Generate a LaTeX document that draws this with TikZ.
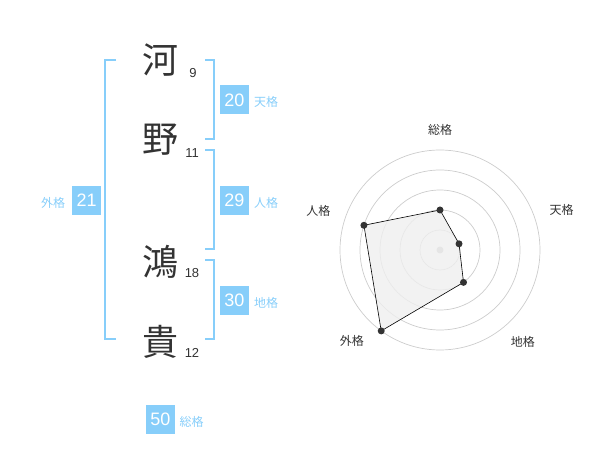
\documentclass[tikz,border=0pt]{standalone}
\usepackage{fontspec}
\setmainfont{Liberation Sans}
\newfontfamily\jp{Noto Sans CJK JP}
\definecolor{skyb}{RGB}{135,206,250}
\definecolor{ink}{RGB}{51,51,51}
\definecolor{ring}{RGB}{204,204,204}
\definecolor{cdot}{RGB}{190,190,190}
\begin{document}
\begin{tikzpicture}[x=1pt,y=-1pt,
  kanji/.style={font=\jp\fontsize{36}{36}\selectfont, text=ink, inner sep=0pt},
  strokes/.style={font=\fontsize{13}{13}\selectfont, text=ink, inner sep=0pt},
  numbox/.style={fill=skyb, text=white, minimum width=29pt, minimum height=29pt, inner sep=0pt, font=\fontsize{18}{18}\selectfont},
  kakulab/.style={text=skyb, inner sep=0pt, font=\jp\fontsize{12}{12}\selectfont},
  brk/.style={draw=skyb, line width=2pt},
  axlab/.style={text=ink, inner sep=0pt, font=\jp\fontsize{12}{12}\selectfont},
  dot/.style={circle, fill=ink, inner sep=0pt, minimum size=7pt},
]
\useasboundingbox (0,0) rectangle (600,470);
% kanji
\node[kanji] (k1) at (160,60) {河};
\node[kanji] (k2) at (160,140) {野};
\node[kanji] (k3) at (160,262) {鴻};
\node[kanji] (k4) at (160,342) {貴};
\node[strokes] (s1) at (193,73) {9};
\node[strokes] (s2) at (192,153) {11};
\node[strokes] (s3) at (192,273) {18};
\node[strokes] (s4) at (192,353) {12};
% brackets
\coordinate (la) at (116,60); \coordinate (lb) at (105,60);
\coordinate (lc) at (105,339); \coordinate (ld) at (116,339);
\draw[brk] (la) -- (lb) -- (lc) -- (ld);
\coordinate (ta) at (205,60); \coordinate (tb) at (214.3,60);
\coordinate (tc) at (214.3,139.3); \coordinate (td) at (205,139.3);
\draw[brk] (ta) -- (tb) -- (tc) -- (td);
\coordinate (ja) at (205,150); \coordinate (jb) at (214.3,150);
\coordinate (jc) at (214.3,249.3); \coordinate (jd) at (205,249.3);
\draw[brk] (ja) -- (jb) -- (jc) -- (jd);
\coordinate (ca) at (205,260); \coordinate (cb) at (214.3,260);
\coordinate (cc) at (214.3,339.3); \coordinate (cd) at (205,339.3);
\draw[brk] (ca) -- (cb) -- (cc) -- (cd);
% boxes
\node[numbox] (b20) at (234.5,100) {20};
\node[kakulab] (l20) at (266,102) {天格};
\node[numbox] (b29) at (234.5,200.5) {29};
\node[kakulab] (l29) at (266,203) {人格};
\node[numbox] (b30) at (234.5,300.5) {30};
\node[kakulab] (l30) at (266,303) {地格};
\node[numbox] (b21) at (86.7,200.5) {21};
\node[kakulab] (l21) at (53,203) {外格};
\node[numbox] (b50) at (160.5,419.5) {50};
\node[kakulab] (l50) at (191.5,422) {総格};
% radar
\coordinate (O) at (440,250);
\foreach \r in {20,40,60,80,100} \draw[ring, line width=0.7pt] (O) circle (\r);
\node[circle, fill=cdot, inner sep=0pt, minimum size=7pt] (cen) at (O) {};
\begin{scope}[shift={(440,250)}, y=1pt]
\coordinate (pS) at (90:40);
\coordinate (pT) at (18:20);
\coordinate (pC) at (-54:40);
\coordinate (pG) at (-126:100);
\coordinate (pJ) at (162:80);
\filldraw[fill=ink!8, fill opacity=0.8, draw=black, line width=0.6pt] (pS) -- (pT) -- (pC) -- (pG) -- (pJ) -- cycle;
\foreach \p in {pS,pT,pC,pG,pJ} \node[dot] at (\p) {};
\node[axlab] (aS) at (90:120) {総格};
\node[axlab] (aT) at (18:128) {天格};
\node[axlab] (aC) at (-48:124) {地格};
\node[axlab] (aG) at (-134:127) {外格};
\node[axlab] (aJ) at (162:128) {人格};
\end{scope}
\end{tikzpicture}
\end{document}
